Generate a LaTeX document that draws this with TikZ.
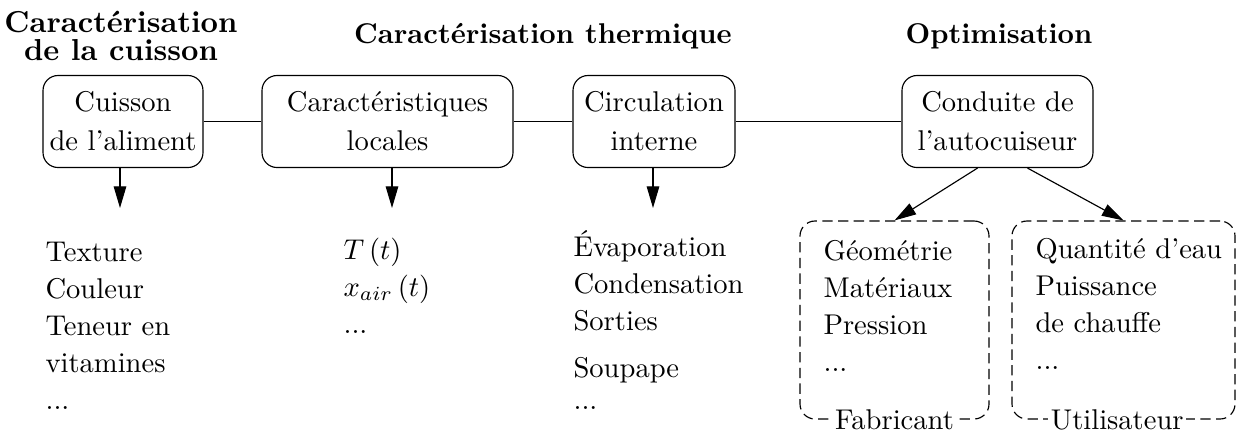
\documentclass[tikz,border=0pt]{standalone}
\usetikzlibrary{arrows.meta,calc}
\begin{document}
\begin{tikzpicture}[x=0.35pt,y=-0.35pt,
  box/.style={draw,rounded corners=5.25pt,inner sep=0pt,align=center,minimum height=32.2pt,
    font=\fontsize{10}{13.65}\selectfont},
  dbox/.style={draw,rounded corners=5.25pt,dash pattern=on 3.6pt off 1.9pt,minimum height=69.3pt,inner sep=0pt},
  lst/.style={anchor=base west,align=left,inner sep=0pt,font=\fontsize{10}{12.95}\selectfont},
  head/.style={anchor=base,inner sep=0pt,font=\fontsize{10}{12}\selectfont\bfseries},
  tag/.style={fill=white,inner sep=1pt,font=\fontsize{10}{12}\selectfont},
  arr/.style={-{Triangle[length=7.6pt,width=4.4pt]}}]
\useasboundingbox (0,0) rectangle (1237,434);

% headings (base anchor = last line)
\node[head,align=center,font=\fontsize{10.6}{9.8}\selectfont\bfseries] (h1) at (121,60) {Caractérisation\\de la cuisson};
\node[head] (h2) at (543,43) {Caractérisation thermique};
\node[head] (h3) at (999,43) {Optimisation};

% boxes
\node[box,minimum width=56pt] (c1) at (123,121.5) {Cuisson\\de l'aliment};
\node[box,minimum width=87.85pt] (c2) at (387.5,121.5) {Caractéristiques\\locales};
\node[box,minimum width=56.7pt] (c3) at (654,121.5) {Circulation\\interne};
\node[box,minimum width=66.85pt] (c4) at (997.5,121.5) {Conduite de\\l'autocuiseur};

\draw (c1) -- (c2);
\draw (c2) -- (c3);
\draw (c3) -- (c4);

% down arrows
\coordinate (a1) at (120,208);
\coordinate (a2) at (392,208);
\coordinate (a3) at (653,208);
\draw[arr] (c1.south -| a1) -- (a1);
\draw[arr] (c2.south -| a2) -- (a2);
\draw[arr] (c3.south -| a3) -- (a3);

% lists (base anchor = last line)
\node[lst] (l1) at (45,409) {Texture\\Couleur\\Teneur en\\vitamines\\...};
\node[lst] (l2) at (343,333) {$T\left(t\right)$\\$x_{air}\left(t\right)$\\...};
\node[lst] (l3) at (573,409) {Évaporation\\Condensation\\Sorties\\[3.5pt]Soupape\\[-2pt]...};

% dashed boxes
\node[dbox,minimum width=66.15pt] (fab) at (894.5,320) {};
\node[dbox,minimum width=78.05pt] (uti) at (1123.5,320) {};
\node[lst] (l4) at (823,371) {Géométrie\\Matériaux\\Pression\\...};
\node[lst] (l5) at (1035,369) {Quantité d'eau\\Puissance\\de chauffe\\...};
\node[tag] (t4) at (fab.south) {Fabricant};
\node[tag] (t5) at ([xshift=-2.2pt]uti.south) {Utilisateur};

\draw[arr] ([xshift=-7pt]c4.south) -- (fab.north);
\draw[arr] ([xshift=10.5pt]c4.south) -- (uti.north);
\end{tikzpicture}
\end{document}
